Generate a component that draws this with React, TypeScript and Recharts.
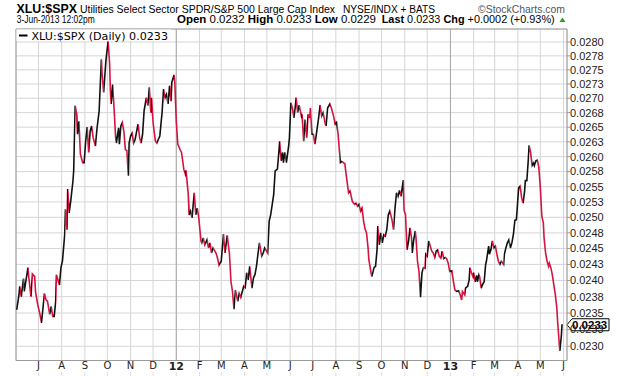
import React from 'react';
import { LineChart, Line, XAxis, YAxis, CartesianGrid, ReferenceLine } from 'recharts';

// x values: calendar days since START_DATE
const START_DATE = '2011-06-01';
const dayOffsets = [
  1, 4, 5, 7, 10, 11, 16, 17, 20, 22, 25, 26, 29, 32, 34, 38, 40, 42, 45, 47, 49, 51, 53, 54, 58, 60, 62, 65, 66, 68,
  69, 71, 73, 76, 77, 79, 81, 82, 84, 86, 89, 91, 93, 95, 97, 99, 101, 103, 106, 108, 111, 114, 115, 117, 120, 122, 123, 125, 126, 127,
  129, 131, 133, 134, 137, 138, 140, 142, 144, 146, 148, 150, 151, 153, 155, 157, 159, 162, 163, 165, 167, 169, 171, 174, 176, 178, 180, 181, 183, 186,
  188, 190, 192, 195, 197, 199, 201, 203, 205, 207, 208, 211, 212, 214, 216, 219, 221, 224, 226, 227, 230, 231, 233, 235, 238, 240, 242, 244, 247, 248,
  250, 252, 255, 257, 259, 261, 263, 267, 269, 271, 274, 277, 279, 282, 285, 287, 289, 291, 293, 296, 298, 300, 304, 306, 308, 310, 312, 315, 317, 319,
  321, 323, 325, 328, 330, 332, 336, 338, 340, 344, 346, 349, 351, 352, 354, 356, 357, 359, 361, 364, 365, 367, 369, 371, 373, 374, 376, 378, 381, 382,
  384, 386, 388, 390, 392, 393, 395, 397, 399, 401, 404, 406, 408, 410, 413, 414, 416, 419, 421, 424, 426, 428, 430, 433, 435, 439, 441, 444, 446, 449,
  452, 454, 456, 458, 460, 462, 464, 466, 468, 470, 471, 474, 475, 478, 480, 482, 483, 485, 487, 489, 491, 493, 495, 497, 499, 502, 504, 506, 508, 510,
  512, 514, 515, 517, 518, 520, 522, 524, 526, 528, 529, 531, 533, 534, 536, 538, 540, 542, 544, 546, 547, 549, 551, 553, 555, 557, 559, 561, 563, 565,
  567, 569, 571, 573, 575, 577, 579, 582, 584, 586, 588, 591, 593, 595, 596, 599, 600, 603, 605, 606, 608, 610, 611, 613, 615, 616, 618, 619, 621, 623,
  625, 627, 628, 631, 632, 634, 636, 638, 640, 642, 644, 646, 648, 651, 652, 654, 656, 658, 660, 662, 664, 666, 668, 669, 671, 673, 675, 677, 679, 680,
  682, 684, 685, 687, 689, 691, 692, 694, 696, 698, 700, 702, 704, 705, 707, 709, 711, 712, 714, 716, 718, 720, 722, 723, 725, 726, 728, 729,
];

const ratioValues = [
  0.02355, 0.02378, 0.02391, 0.02375, 0.02403, 0.02383, 0.0242, 0.02406, 0.02375, 0.0241, 0.02406, 0.02383, 0.02363, 0.02348, 0.02335, 0.0238, 0.0237, 0.02368, 0.02348, 0.0236, 0.02345, 0.02345, 0.02368, 0.02409, 0.02393, 0.0242, 0.0243, 0.02472, 0.02513, 0.0248,
  0.02546, 0.02507, 0.02526, 0.02559, 0.02576, 0.02687, 0.02672, 0.02638, 0.0266, 0.02604, 0.0259, 0.0259, 0.02626, 0.0265, 0.02607, 0.02643, 0.02652, 0.02632, 0.02618, 0.02646, 0.02678, 0.02769, 0.02742, 0.0271, 0.02766, 0.0279, 0.02801, 0.0276, 0.02713, 0.0269,
  0.02724, 0.02681, 0.02632, 0.02623, 0.02649, 0.02621, 0.02652, 0.02658, 0.02643, 0.02612, 0.0261, 0.02568, 0.02623, 0.02635, 0.0264, 0.02623, 0.02629, 0.02649, 0.02655, 0.02632, 0.02623, 0.02638, 0.02678, 0.02701, 0.02687, 0.02719, 0.02675, 0.02701, 0.02658, 0.02627,
  0.02623, 0.02629, 0.02635, 0.02675, 0.02716, 0.02701, 0.02707, 0.0269, 0.02722, 0.02695, 0.02728, 0.02741, 0.02728, 0.0266, 0.02621, 0.02612, 0.02607, 0.02579, 0.02571, 0.02577, 0.02537, 0.02504, 0.0251, 0.02499, 0.0254, 0.02504, 0.02515, 0.02499, 0.02462, 0.02459,
  0.02467, 0.02456, 0.02464, 0.02451, 0.02459, 0.02443, 0.02451, 0.02443, 0.02435, 0.02424, 0.0243, 0.02473, 0.02443, 0.02471, 0.02441, 0.02398, 0.02383, 0.02356, 0.02385, 0.02368, 0.0238, 0.02374, 0.02391, 0.02389, 0.02412, 0.02401, 0.02422, 0.02388, 0.02404, 0.02409,
  0.02422, 0.02441, 0.02459, 0.02438, 0.02443, 0.02451, 0.02443, 0.02494, 0.02504, 0.02537, 0.02576, 0.02579, 0.02609, 0.02626, 0.02593, 0.02607, 0.0259, 0.02607, 0.0259, 0.02618, 0.02632, 0.02692, 0.02683, 0.02666, 0.02687, 0.02701, 0.02675, 0.02688, 0.02669, 0.02672,
  0.02626, 0.02663, 0.02632, 0.02672, 0.02666, 0.02683, 0.02638, 0.02638, 0.02621, 0.02638, 0.02666, 0.02688, 0.02669, 0.02675, 0.02655, 0.02652, 0.02683, 0.0269, 0.02683, 0.02669, 0.02655, 0.02658, 0.02638, 0.0259, 0.02592, 0.02588, 0.02568, 0.0254, 0.02543, 0.02526,
  0.02521, 0.02523, 0.02518, 0.02521, 0.0251, 0.02515, 0.02494, 0.02481, 0.02475, 0.02451, 0.02433, 0.02412, 0.02406, 0.0242, 0.02422, 0.02448, 0.02486, 0.02456, 0.02475, 0.02459, 0.02472, 0.0247, 0.0248, 0.02504, 0.0251, 0.02496, 0.0248, 0.02515, 0.0254, 0.02534,
  0.02544, 0.02534, 0.02543, 0.02561, 0.02512, 0.02504, 0.02448, 0.02461, 0.02483, 0.02467, 0.02443, 0.02464, 0.02478, 0.02467, 0.0243, 0.02414, 0.02374, 0.02412, 0.0242, 0.02419, 0.02441, 0.02438, 0.02462, 0.02454, 0.02446, 0.02443, 0.02436, 0.02446, 0.02448, 0.02438,
  0.02435, 0.02446, 0.02434, 0.02436, 0.02434, 0.02427, 0.02414, 0.02415, 0.02398, 0.02385, 0.02383, 0.02384, 0.02378, 0.0237, 0.02383, 0.02378, 0.02388, 0.02391, 0.02401, 0.0242, 0.02412, 0.02406, 0.02412, 0.02398, 0.02408, 0.02398, 0.02409, 0.02406, 0.02388, 0.02394,
  0.02398, 0.02425, 0.0243, 0.02454, 0.02441, 0.02448, 0.02462, 0.02451, 0.02454, 0.02441, 0.0243, 0.02425, 0.0243, 0.02425, 0.02441, 0.02451, 0.02459, 0.02464, 0.02451, 0.02459, 0.02472, 0.02495, 0.02496, 0.02512, 0.02548, 0.02551, 0.02532, 0.02523, 0.02543, 0.0256,
  0.0256, 0.02596, 0.02619, 0.02607, 0.02585, 0.02589, 0.02585, 0.02593, 0.02594, 0.02582, 0.02548, 0.02502, 0.02491, 0.02467, 0.02443, 0.0243, 0.02422, 0.02427, 0.0242, 0.02409, 0.02393, 0.02378, 0.02358, 0.02338, 0.02308, 0.02293, 0.02315, 0.02333,
];

const monthTickDays = [30, 61, 92, 122, 153, 183, 214, 245, 274, 305, 335, 366, 396, 427, 458, 488, 519, 549, 580, 611, 639, 670, 700, 731];
const monthTickLabels = ['J', 'A', 'S', 'O', 'N', 'D', '12', 'F', 'M', 'A', 'M', 'J', 'J', 'A', 'S', 'O', 'N', 'D', '13', 'F', 'M', 'A', 'M', 'J'];
const yearStartDays = [214, 580];

const priceTicks = [0.023, 0.02325, 0.0235, 0.02375, 0.024, 0.02425, 0.0245, 0.02475, 0.025, 0.02525, 0.0255, 0.02575, 0.026, 0.02625, 0.0265, 0.02675, 0.027, 0.02725, 0.0275, 0.02775, 0.028];
const priceTickLabels = ['0.0230', '0.0233', '0.0235', '0.0238', '0.0240', '0.0243', '0.0245', '0.0248', '0.0250', '0.0253', '0.0255', '0.0258', '0.0260', '0.0263', '0.0265', '0.0268', '0.0270', '0.0273', '0.0275', '0.0278', '0.0280'];

const lastValue = 0.0233;
const lastLabel = '0.0233';
const X_DOMAIN: [number, number] = [0, 735.6];
const Y_DOMAIN: [number, number] = [0.02279, 0.028236];

const UP = '#111111';
const DOWN = '#d3143f';

const data = dayOffsets.map((d, i) => ({ day: d, value: ratioValues[i] }));

const d0 = dayOffsets[0];
const span = dayOffsets[dayOffsets.length - 1] - d0;
const stops: { off: number; color: string }[] = [];
for (let i = 0; i < ratioValues.length - 1; i++) {
  const c = ratioValues[i + 1] >= ratioValues[i] ? UP : DOWN;
  stops.push({ off: (dayOffsets[i] - d0) / span, color: c });
  stops.push({ off: (dayOffsets[i + 1] - d0) / span, color: c });
}

const priceLabel = (v: number) => {
  let best = 0;
  for (let i = 1; i < priceTicks.length; i++) {
    if (Math.abs(priceTicks[i] - v) < Math.abs(priceTicks[best] - v)) best = i;
  }
  return priceTickLabels[best];
};

const MonthTick = (props: any) => {
  const { x, y, payload } = props;
  const idx = monthTickDays.indexOf(payload.value);
  const label = idx >= 0 ? monthTickLabels[idx] : '';
  const isYear = /^\d+$/.test(label);
  return (
    <g>
      <text
        x={x}
        y={y}
        dy="0.71em"
        textAnchor="middle"
        fontFamily="'DejaVu Sans', Verdana, sans-serif"
        fontSize={isYear ? 11 : 10}
        fontWeight={isYear ? 'bold' : 'normal'}
        fill="#222"
      >
        {label}
      </text>
      <line x1={x} x2={x} y1={y + 10.5} y2={y + 14} stroke="#bbb" strokeDasharray="1 1" />
    </g>
  );
};

const LastTag = (props: any) => {
  const vb = props.viewBox || {};
  const xr = (vb.x || 0) + (vb.width || 0);
  const y = (vb.y || 0) - 1.5;
  const h = 6;
  const pts = `${xr},${y} ${xr + 5},${y - h} ${xr + 42},${y - h} ${xr + 42},${y + h} ${xr + 5},${y + h}`;
  return (
    <g>
      <polygon points={pts} fill="#fff" stroke="#000" strokeWidth={1} />
      <text x={xr + 5} y={y} dy="0.36em" fontFamily="'Liberation Sans', Arial, sans-serif" fontWeight="bold" fontSize={11.5} fill="#000">
        {lastLabel}
      </text>
    </g>
  );
};

export default function App() {
  const font = "'Liberation Sans', Arial, sans-serif";
  return (
    <div style={{ position: 'absolute', left: 0, top: 0, width: 620, height: 376, background: '#fff' }}>
      <LineChart width={620} height={376} data={data} margin={{ top: 29, right: 0, bottom: 0, left: 16 }}>
        <defs>
          <linearGradient id="upDownStroke" x1="0" y1="0" x2="1" y2="0">
            {stops.map((s, i) => (
              <stop key={i} offset={s.off} stopColor={s.color} />
            ))}
          </linearGradient>
        </defs>
        <CartesianGrid stroke="#d6d6d6" strokeWidth={1} />
        <XAxis
          type="number"
          dataKey="day"
          domain={X_DOMAIN}
          allowDataOverflow
          ticks={monthTickDays}
          interval={0}
          tick={<MonthTick />}
          tickLine={false}
          tickSize={0}
          tickMargin={1.5}
          axisLine={{ stroke: '#9a9a9a' }}
          height={15.5}
        />
        <YAxis
          orientation="right"
          scale="log"
          domain={Y_DOMAIN}
          allowDataOverflow
          ticks={priceTicks}
          interval={0}
          width={53}
          tickSize={3}
          tickMargin={0}
          tickLine={{ stroke: '#999' }}
          axisLine={{ stroke: '#9a9a9a' }}
          tickFormatter={(v: number) => priceLabel(v)}
          tick={{ fontFamily: font, fontSize: 11, fill: '#222' }}
        />
        {yearStartDays.map((d) => (
          <ReferenceLine key={d} x={d} stroke="#a8a8a8" strokeWidth={1} />
        ))}
        <ReferenceLine x={X_DOMAIN[0]} stroke="#9a9a9a" />
        <ReferenceLine y={Y_DOMAIN[1]} stroke="#9a9a9a" />
        <Line
          type="linear"
          dataKey="value"
          stroke="url(#upDownStroke)"
          strokeWidth={1.6}
          dot={false}
          activeDot={false}
          isAnimationActive={false}
        />
        <ReferenceLine y={lastValue} stroke="none" ifOverflow="visible" label={<LastTag />} />
      </LineChart>
      <svg
        width={620}
        height={376}
        style={{ position: 'absolute', left: 0, top: 0, pointerEvents: 'none' }}
      >
        <text x={16.5} y={13} fontFamily={font} fontWeight="bold" fontSize={13.2} textLength={60.5} lengthAdjust="spacingAndGlyphs" fill="#000">
          XLU:$SPX
        </text>
        <text x={80} y={13} fontFamily={font} fontSize={10.4} textLength={255} lengthAdjust="spacingAndGlyphs" fill="#000">
          Utilities Select Sector SPDR/S&amp;P 500 Large Cap Index
        </text>
        <text x={343} y={13} fontFamily={font} fontSize={10} textLength={92} lengthAdjust="spacingAndGlyphs" fill="#000">
          NYSE/INDX + BATS
        </text>
        <text x={478} y={13} fontFamily={font} fontSize={11} textLength={87} lengthAdjust="spacingAndGlyphs" fill="#555">
          ©StockCharts.com
        </text>
        <text x={16.7} y={23} fontFamily={font} fontSize={11} textLength={78} lengthAdjust="spacingAndGlyphs" fill="#000">
          3-Jun-2013 12:02pm
        </text>
        <text x={177} y={23} fontFamily={font} fontSize={11} textLength={199} lengthAdjust="spacingAndGlyphs" fill="#000">
          <tspan fontWeight="bold">Open</tspan> 0.0232 <tspan fontWeight="bold">High</tspan> 0.0233 <tspan fontWeight="bold">Low</tspan> 0.0229
        </text>
        <text x={381.7} y={23} fontFamily={font} fontSize={11} textLength={173} lengthAdjust="spacingAndGlyphs" fill="#000">
          <tspan fontWeight="bold">Last</tspan> 0.0233 <tspan fontWeight="bold">Chg</tspan> +0.0002 (+0.93%)
        </text>
        <polygon points="559.5,22 562.5,17.5 565.5,22" fill="#2a9a2a" />
        <rect x={16.5} y={29.5} width={155} height={11.5} fill="#fff" />
        <line x1={19} x2={27.5} y1={35.5} y2={35.5} stroke="#000" strokeWidth={2} />
        <text x={31.5} y={39.5} fontFamily="'DejaVu Sans', Verdana, sans-serif" fontSize={11} textLength={136.5} lengthAdjust="spacingAndGlyphs" fill="#000">
          XLU:$SPX (Daily) 0.0233
        </text>
      </svg>
    </div>
  );
}
